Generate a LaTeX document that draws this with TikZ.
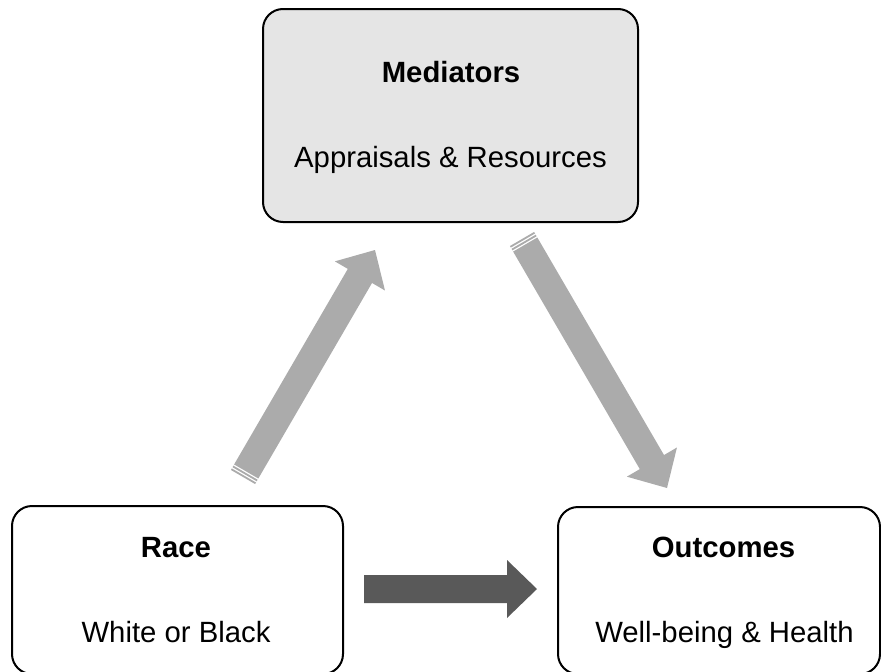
\documentclass[tikz,border=0pt]{standalone}
\usepackage{fontspec}
\setmainfont{Liberation Sans}
\usetikzlibrary{calc}

\definecolor{arrowlight}{HTML}{ABABAB}
\definecolor{arrowdark}{HTML}{595959}
\definecolor{medfill}{HTML}{E5E5E5}

% block arrow: #1 fill colour, #2 tail coordinate, #3 tip coordinate
\newcommand\blockarrow[3]{%
  \path coordinate (ba-h) at ($(#3)!30pt!(#2)$);
  \fill[#1] ($(#2)!14pt!90:(#3)$) -- ($(#2)!14pt!-90:(#3)$)
    -- ($(ba-h)!14pt!-90:(#3)$) -- ($(ba-h)!29pt!-90:(#3)$) -- (#3)
    -- ($(ba-h)!29pt!90:(#3)$) -- ($(ba-h)!14pt!90:(#3)$) -- cycle;
}
% a thin band across the shaft, between two points on its axis
\newcommand\shaftband[4]{%
  \fill[#1] ($(#2)!14pt!90:(#4)$) -- ($(#2)!14pt!-90:(#4)$)
    -- ($(#3)!14pt!90:(#2)$) -- ($(#3)!14pt!-90:(#2)$) -- cycle;
}
% block arrow with two stripes at its tail
\newcommand\stripedarrow[3]{%
  \path coordinate (sa-0) at ($(#2)!1.8pt!(#3)$)
        coordinate (sa-1) at ($(#2)!3.2pt!(#3)$)
        coordinate (sa-2) at ($(#2)!5.0pt!(#3)$)
        coordinate (sa-3) at ($(#2)!6.4pt!(#3)$);
  \shaftband{#1}{#2}{sa-0}{#3}
  \shaftband{#1}{sa-1}{sa-2}{#3}
  \blockarrow{#1}{sa-3}{#3}
}

\tikzset{
  box/.style={draw=black, line width=2pt, rounded corners=20pt, inner sep=0pt},
  title/.style={anchor=base, font=\fontsize{29.3}{35}\selectfont\bfseries},
  subtitle/.style={anchor=base, font=\fontsize{29.3}{35}\selectfont},
}

\begin{document}
\begin{tikzpicture}[x=1pt, y=-1pt]
  \useasboundingbox (0,0) rectangle (881,672);

  % boxes
  \node[box, fill=medfill, minimum width=375pt, minimum height=213pt] (med) at (450.5,115.5) {};
  \node[box, fill=white, minimum width=331pt, minimum height=168pt] (race) at (177.5,590) {};
  \node[box, fill=white, minimum width=322pt, minimum height=167pt] (out) at (719,590.5) {};

  % texts
  \node[title] (medT) at (451,82) {Mediators};
  \node[subtitle] (medS) at (450.5,167) {Appraisals \& Resources};
  \node[title] (raceT) at (176,557) {Race};
  \node[subtitle] (raceS) at (176,642) {White or Black};
  \node[title] (outT) at (723.5,557) {Outcomes};
  \node[subtitle] (outS) at (724.5,642) {Well-being \& Health};

  % connector end points
  \coordinate (r2m-a) at (243,477);
  \coordinate (r2m-b) at (375,250);
  \coordinate (m2o-a) at (522,239);
  \coordinate (m2o-b) at (667,488);
  \coordinate (r2o-a) at (364,589);
  \coordinate (r2o-b) at (537,589);

  % connectors
  \stripedarrow{arrowlight}{r2m-a}{r2m-b}
  \stripedarrow{arrowlight}{m2o-a}{m2o-b}
  \blockarrow{arrowdark}{r2o-a}{r2o-b}
\end{tikzpicture}
\end{document}
